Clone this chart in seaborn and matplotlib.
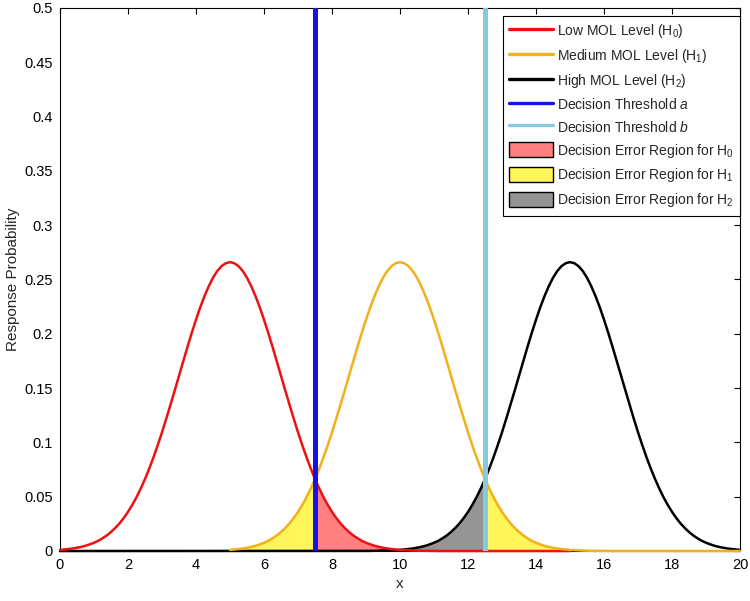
import numpy as np
import matplotlib
matplotlib.use('Agg')
import matplotlib.pyplot as plt
import seaborn as sns
from matplotlib.lines import Line2D
from matplotlib.patches import Patch

# curve shape: response vs distance from the peak (step 0.125)
profile = [0.2660, 0.2650, 0.2623, 0.2578, 0.2516, 0.2438, 0.2347, 0.2244, 0.2130,
           0.2008, 0.1880, 0.1747, 0.1613, 0.1479, 0.1347, 0.1218, 0.1093, 0.0975,
           0.0863, 0.0759, 0.0663, 0.0575, 0.0495, 0.0424, 0.0360, 0.0304, 0.0254,
           0.0212, 0.0175, 0.0143, 0.0117, 0.0094, 0.0076, 0.0061, 0.0048, 0.0038,
           0.0030, 0.0023, 0.0018, 0.0014, 0.0010, 0.0008, 0.0006, 0.0004, 0.0003,
           0.0002, 0.0002, 0.0001, 0.0001]
step = 0.125
peaks = [5, 10, 15]
spans = [(0, 15), (5, 20), (0, 20)]
labels = ['Low MOL Level (H$_0$)', 'Medium MOL Level (H$_1$)', 'High MOL Level (H$_2$)']
colors = ['#EE1111', '#F2B01A', '#000000']
draw_order = [2, 0, 1]

thresholds = [7.5, 12.5]
thr_labels = ['Decision Threshold $\\it{a}$', 'Decision Threshold $\\it{b}$']
thr_colors = ['#1414E6', '#86C9E0']

# error regions: (curve index, x from, x to)
regions = [(0, 7.5, 15), (1, 5, 7.5), (1, 12.5, 15), (2, 10, 12.5)]
fill_colors = ['#FF8080', '#FFF65C', '#FFF65C', '#959595']
patch_labels = ['Decision Error Region for H$_0$', 'Decision Error Region for H$_1$',
                'Decision Error Region for H$_2$']
patch_colors = ['#FF8080', '#FFF65C', '#959595']

xticks = list(range(0, 21, 2))
yticks = [0, 0.05, 0.1, 0.15, 0.2, 0.25, 0.3, 0.35, 0.4, 0.45, 0.5]
ytick_labels = ['0', '0.05', '0.1', '0.15', '0.2', '0.25', '0.3', '0.35', '0.4', '0.45', '0.5']

sns.set_style('white')
plt.rcParams['font.family'] = ['Liberation Sans', 'DejaVu Sans']
plt.rcParams['mathtext.fontset'] = 'custom'
plt.rcParams['mathtext.rm'] = 'Liberation Sans'
plt.rcParams['mathtext.it'] = 'Liberation Sans:italic'


def curve(mu, lo, hi):
    xs = np.arange(lo, hi + step / 2, step)
    ys = []
    for x in xs:
        k = int(round(abs(x - mu) / step))
        ys.append(profile[k] if k < len(profile) else 0.0)
    return xs, np.array(ys)


fig = plt.figure(figsize=(7.5, 6.01), dpi=100)
ax = fig.add_axes([0.08, 0.0832, 0.9067, 0.9035])

curves = [curve(mu, lo, hi) for mu, (lo, hi) in zip(peaks, spans)]

# fills under the curves
for (ci, a, b), fc in zip(regions, fill_colors):
    xs, ys = curves[ci]
    m = (xs >= a - 1e-9) & (xs <= b + 1e-9)
    ax.fill_between(xs[m], 0, ys[m], color=fc, linewidth=0, zorder=1)

for z, i in enumerate(draw_order):
    xs, ys = curves[i]
    sns.lineplot(x=xs, y=ys, color=colors[i], linewidth=1.8, ax=ax, clip_on=False,
                 zorder=3 + 0.1 * z)

for t, c in zip(thresholds, thr_colors):
    ax.axvline(t, color=c, linewidth=3.6, zorder=4)

ax.set_xlim(0, 20)
ax.set_ylim(0, 0.5)
ax.set_xticks(xticks)
ax.set_yticks(yticks)
ax.set_yticklabels(ytick_labels)
ax.tick_params(direction='in', length=4, width=0.8, labelsize=10.5, colors='black',
               top=True, right=True, pad=5)
for s in ax.spines.values():
    s.set_linewidth(0.8)
    s.set_color('black')
ax.set_xlabel('x', fontsize=11)
ax.set_ylabel('Response Probability', fontsize=11, labelpad=3)

handles = [Line2D([], [], color=c, linewidth=2.4) for c in colors]
handles += [Line2D([], [], color=c, linewidth=2.4) for c in thr_colors]
handles += [Patch(facecolor=c, edgecolor='black', linewidth=1.0) for c in patch_colors]
leg = ax.legend(handles, labels + thr_labels + patch_labels, loc='upper right',
                bbox_to_anchor=(1.0, 0.985), borderaxespad=0, fontsize=10,
                frameon=True, fancybox=False, framealpha=1, edgecolor='black',
                handlelength=3.2, handleheight=1.3, handletextpad=0.25,
                labelspacing=0.5, borderpad=0.45)
leg.get_frame().set_linewidth(0.8)

fig.savefig('out.png', dpi=100)
